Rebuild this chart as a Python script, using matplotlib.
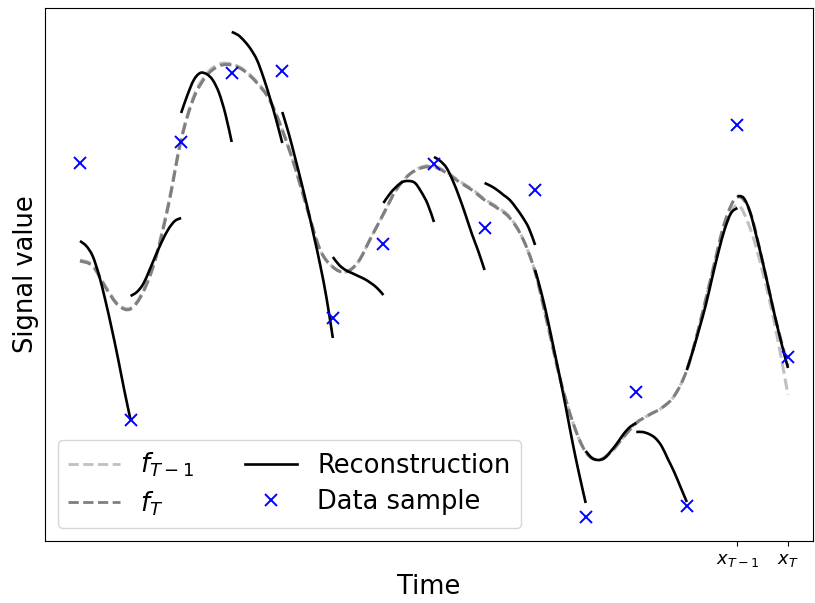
import matplotlib
matplotlib.use("Agg")
import matplotlib.pyplot as plt
from matplotlib.path import Path
from matplotlib.patches import PathPatch
from matplotlib.lines import Line2D
import numpy as np

# sample times and observed values
t_samples = np.arange(15)
y_samples = [1.37, -1.20, 1.58, 2.27, 2.29, -0.18, 0.56, 1.36, 0.72, 1.10,
             -2.17, -0.92, -2.06, 1.75, -0.57]

# fitted functions, sampled every quarter step
t_fit = np.arange(0, 14.01, 0.25)
f_T = [0.39, 0.34, 0.13, -0.05, -0.09, 0.08, 0.42, 0.95, 1.60, 2.02, 2.24, 2.34,
       2.35, 2.29, 2.17, 2.00, 1.70, 1.33, 0.90, 0.50, 0.33, 0.28, 0.38, 0.62,
       0.86, 1.10, 1.25, 1.32, 1.33, 1.27, 1.18, 1.10, 1.00, 0.92, 0.82, 0.62,
       0.28, -0.25, -0.80, -1.23, -1.52, -1.60, -1.52, -1.37, -1.23, -1.15, -1.08,
       -0.96, -0.70, -0.25, 0.27, 0.78, 1.03, 0.88, 0.38, -0.18, -0.66]
f_T_prev = [0.40, 0.35, 0.14, -0.04, -0.08, 0.09, 0.44, 0.97, 1.61, 2.04, 2.26, 2.36,
            2.36, 2.30, 2.18, 2.01, 1.70, 1.33, 0.90, 0.50, 0.33, 0.28, 0.38, 0.62,
            0.86, 1.10, 1.25, 1.33, 1.34, 1.28, 1.19, 1.11, 1.01, 0.93, 0.83, 0.62,
            0.28, -0.25, -0.80, -1.23, -1.52, -1.60, -1.52, -1.37, -1.23, -1.15, -1.08,
            -0.96, -0.70, -0.25, 0.27, 0.72, 0.95, 0.72, 0.28, -0.27, -0.95]

# reconstruction on each interval [k, k+1], sampled every 1/8 step
t_seg = np.linspace(0, 1, 9)
segments = [
    [0.59, 0.54, 0.44, 0.25, 0.00, -0.28, -0.58, -0.90, -1.20],
    [0.04, 0.08, 0.16, 0.30, 0.45, 0.59, 0.71, 0.79, 0.82],
    [1.87, 2.05, 2.20, 2.27, 2.26, 2.20, 2.07, 1.86, 1.58],
    [2.68, 2.65, 2.59, 2.51, 2.40, 2.23, 2.03, 1.81, 1.57],
    [1.88, 1.67, 1.43, 1.18, 0.92, 0.64, 0.35, 0.02, -0.38],
    [0.43, 0.35, 0.30, 0.27, 0.24, 0.21, 0.17, 0.12, 0.05],
    [0.97, 1.06, 1.13, 1.18, 1.19, 1.17, 1.08, 0.96, 0.78],
    [1.43, 1.39, 1.32, 1.19, 1.03, 0.85, 0.66, 0.49, 0.30],
    [1.17, 1.14, 1.10, 1.05, 1.00, 0.92, 0.83, 0.72, 0.55],
    [0.30, 0.07, -0.20, -0.50, -0.80, -1.12, -1.45, -1.75, -2.03],
    [-1.51, -1.58, -1.60, -1.58, -1.51, -1.43, -1.34, -1.27, -1.23],
    [-1.32, -1.32, -1.34, -1.38, -1.46, -1.59, -1.72, -1.87, -2.02],
    [-0.70, -0.50, -0.28, -0.05, 0.22, 0.48, 0.71, 0.87, 0.92],
    [1.04, 1.02, 0.88, 0.64, 0.38, 0.10, -0.18, -0.44, -0.68],
]

LIGHT = "#c0c0c0"
DARK = "#7f7f7f"


def smooth_path(x, y):
    # Catmull-Rom curve through the points, as cubic Bezier pieces
    pts = np.column_stack([x, y])
    n = len(pts)
    verts = [pts[0]]
    codes = [Path.MOVETO]
    for i in range(n - 1):
        p0 = pts[max(i - 1, 0)]
        p1 = pts[i]
        p2 = pts[i + 1]
        p3 = pts[min(i + 2, n - 1)]
        verts += [p1 + (p2 - p0) / 6, p2 - (p3 - p1) / 6, p2]
        codes += [Path.CURVE4] * 3
    return Path(verts, codes)


def draw_curve(ax, x, y, **kw):
    ax.add_patch(PathPatch(smooth_path(x, y), fill=False, **kw))


fig, ax = plt.subplots(figsize=(8.15, 6.03), dpi=100)
fig.subplots_adjust(left=45/815, right=813/815, top=1-8/603, bottom=1-541/603)

draw_curve(ax, t_fit, f_T_prev, edgecolor=LIGHT, lw=2.2, linestyle="--")
draw_curve(ax, t_fit, f_T, edgecolor=DARK, lw=2.2, linestyle="--")
for k, seg in enumerate(segments):
    draw_curve(ax, k + t_seg, seg, edgecolor="k", lw=1.9)
ax.plot(t_samples, y_samples, "x", color="blue", ms=8, mew=1.4)

ax.set_xlim(-0.692, 14.495)
ax.set_ylim(-2.41, 2.92)
ax.set_yticks([])
ax.set_xticks([13, 14])
ax.set_xticklabels(["$x_{T-1}$", "$x_T$"], fontsize=13)
ax.set_xlabel("Time", fontsize=18.5)
ax.set_ylabel("Signal value", fontsize=18.5)

handles = [
    Line2D([], [], ls="--", color=LIGHT, lw=2),
    Line2D([], [], ls="--", color=DARK, lw=2),
    Line2D([], [], color="k", lw=1.9),
    Line2D([], [], ls="none", marker="x", color="blue", ms=8, mew=1.4),
]
labels = ["$f_{T-1}$", "$f_T$", "Reconstruction", "Data sample"]
ax.legend(handles, labels, loc="lower left", ncol=2, fontsize=18.5,
          labelspacing=0.4)

fig.savefig("out.png")
